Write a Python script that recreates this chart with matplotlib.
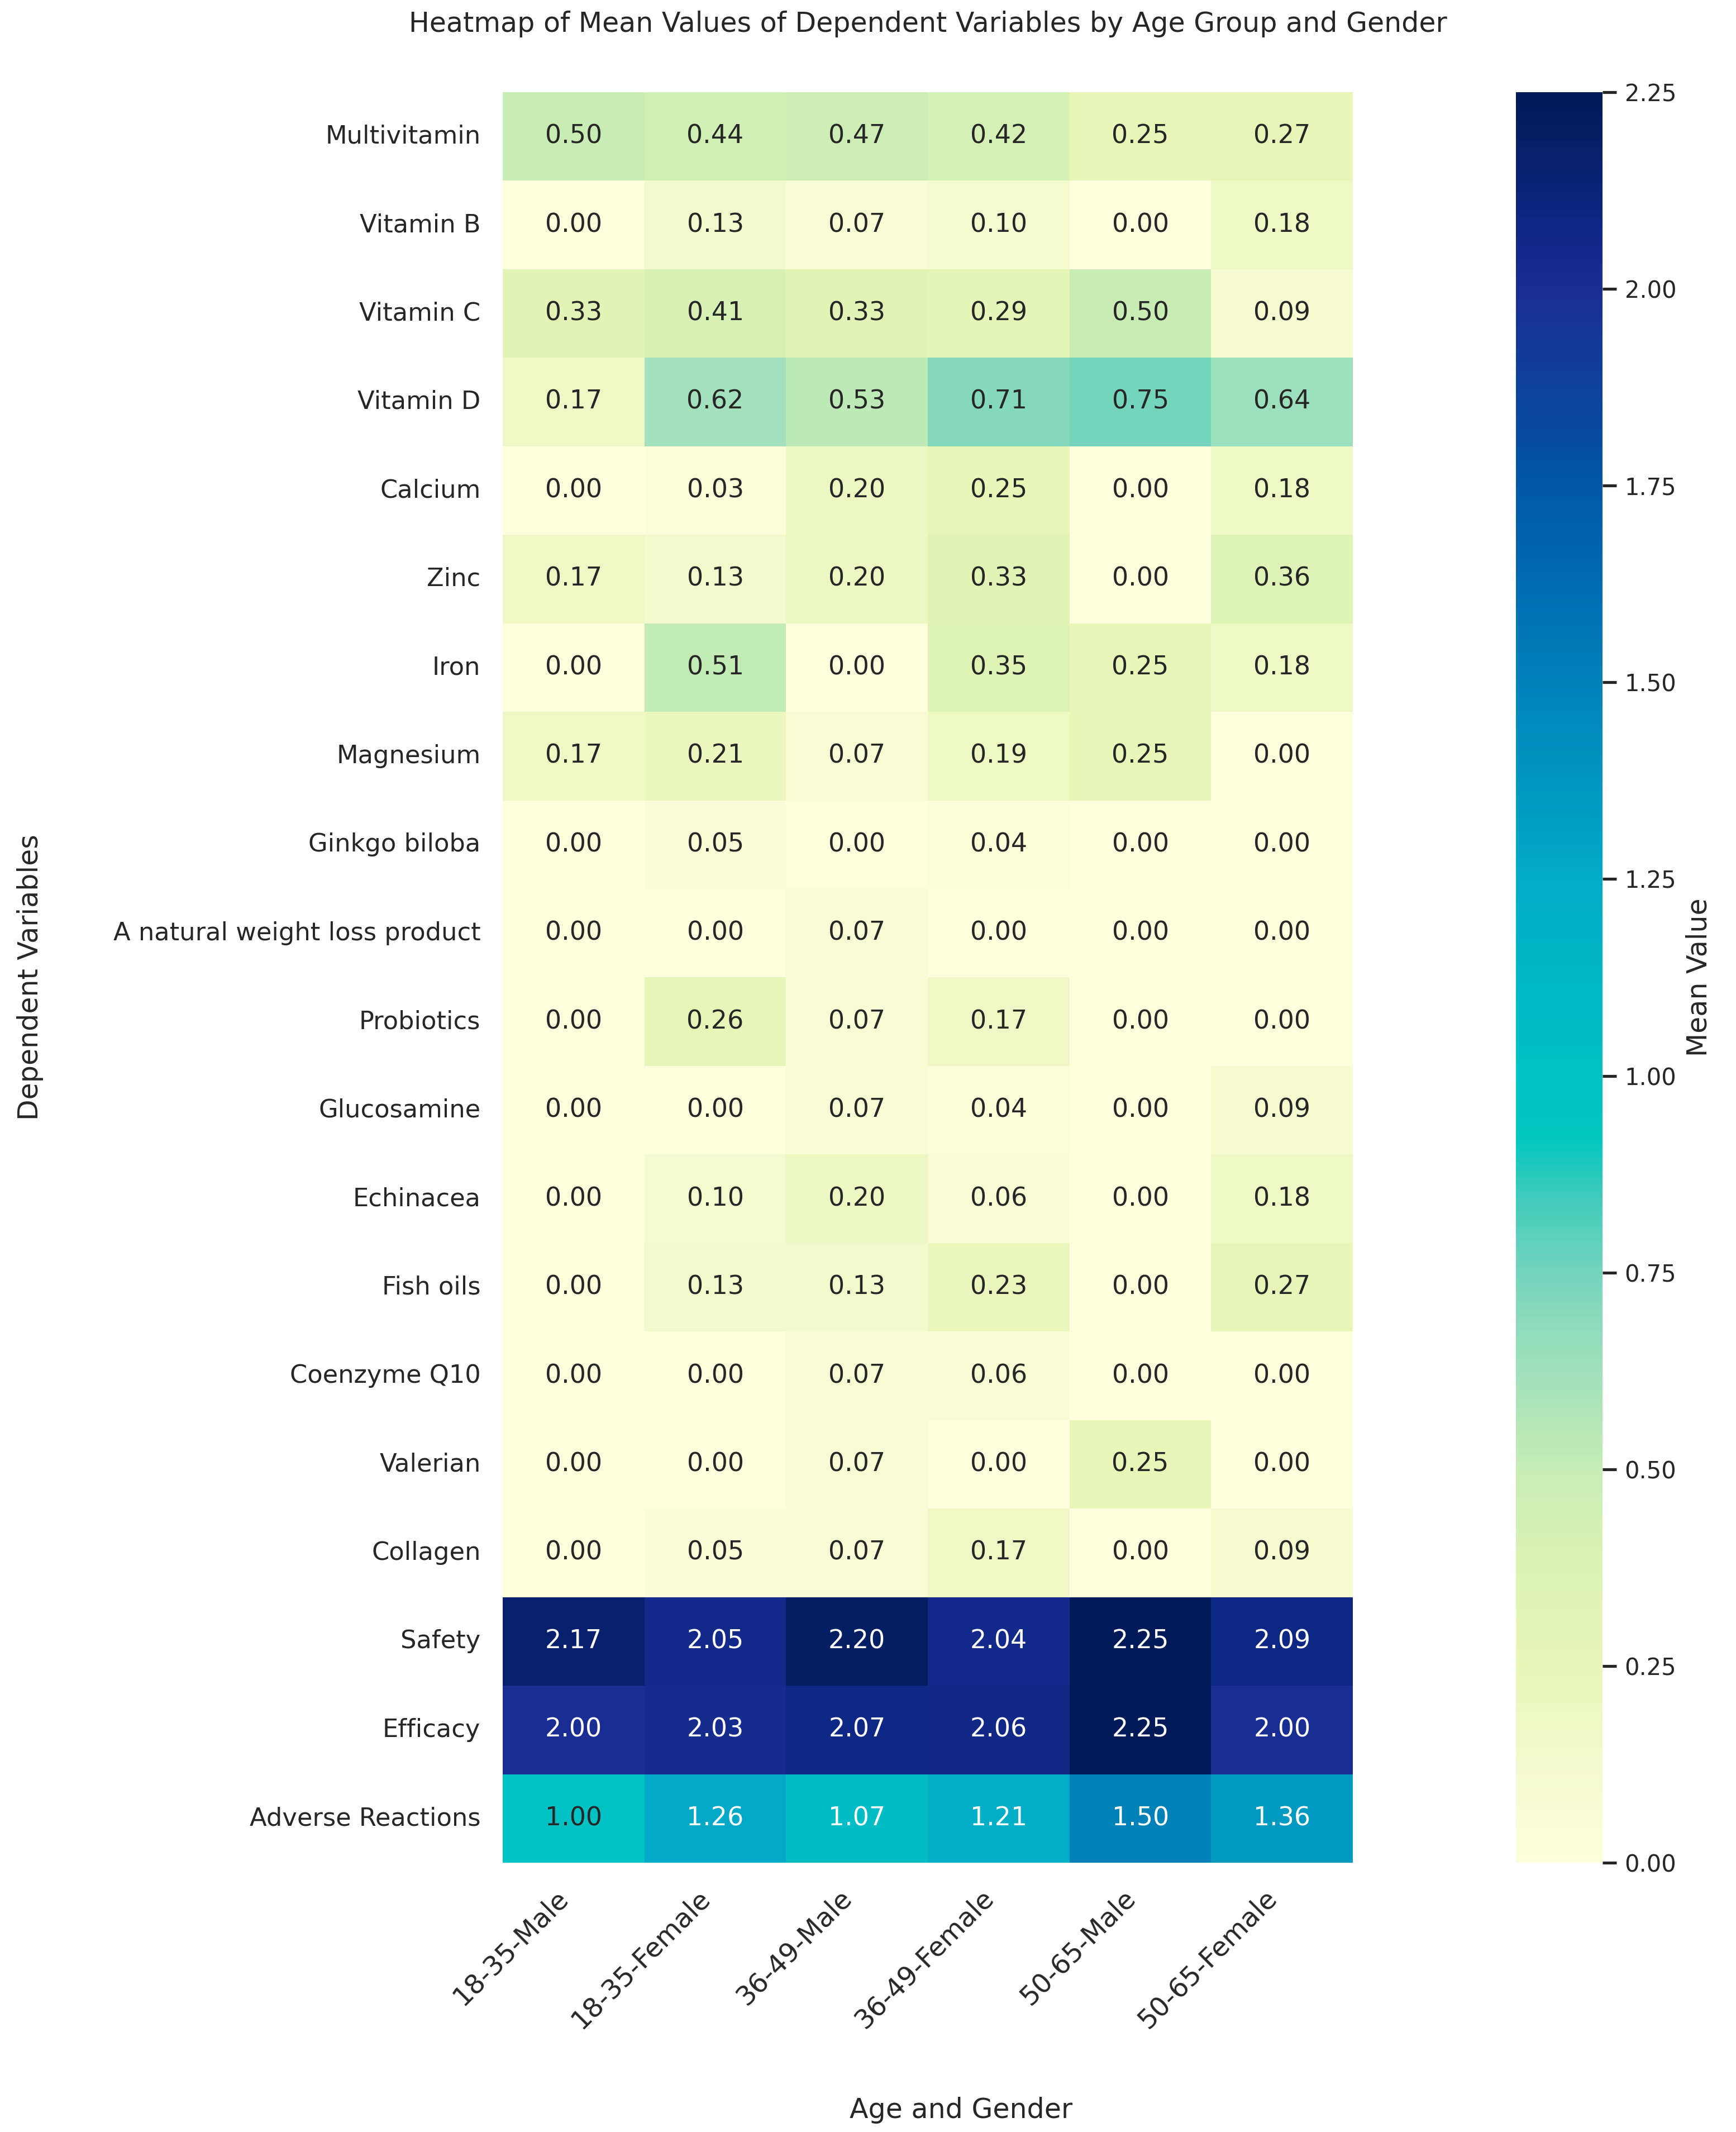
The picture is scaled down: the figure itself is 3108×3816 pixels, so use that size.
import matplotlib
matplotlib.use("Agg")
import matplotlib.pyplot as plt
from matplotlib.colors import LinearSegmentedColormap
import seaborn as sns
import pandas as pd

groups = ["18-35-Male", "18-35-Female", "36-49-Male", "36-49-Female", "50-65-Male", "50-65-Female"]
variables = ["Multivitamin", "Vitamin B", "Vitamin C", "Vitamin D", "Calcium", "Zinc", "Iron",
             "Magnesium", "Ginkgo biloba", "A natural weight loss product", "Probiotics",
             "Glucosamine", "Echinacea", "Fish oils", "Coenzyme Q10", "Valerian", "Collagen",
             "Safety", "Efficacy", "Adverse Reactions"]

multivitamin = [0.50, 0.44, 0.47, 0.42, 0.25, 0.27]
vitamin_b = [0.00, 0.13, 0.07, 0.10, 0.00, 0.18]
vitamin_c = [0.33, 0.41, 0.33, 0.29, 0.50, 0.09]
vitamin_d = [0.17, 0.62, 0.53, 0.71, 0.75, 0.64]
calcium = [0.00, 0.03, 0.20, 0.25, 0.00, 0.18]
zinc = [0.17, 0.13, 0.20, 0.33, 0.00, 0.36]
iron = [0.00, 0.51, 0.00, 0.35, 0.25, 0.18]
magnesium = [0.17, 0.21, 0.07, 0.19, 0.25, 0.00]
ginkgo = [0.00, 0.05, 0.00, 0.04, 0.00, 0.00]
weight_loss = [0.00, 0.00, 0.07, 0.00, 0.00, 0.00]
probiotics = [0.00, 0.26, 0.07, 0.17, 0.00, 0.00]
glucosamine = [0.00, 0.00, 0.07, 0.04, 0.00, 0.09]
echinacea = [0.00, 0.10, 0.20, 0.06, 0.00, 0.18]
fish_oils = [0.00, 0.13, 0.13, 0.23, 0.00, 0.27]
coq10 = [0.00, 0.00, 0.07, 0.06, 0.00, 0.00]
valerian = [0.00, 0.00, 0.07, 0.00, 0.25, 0.00]
collagen = [0.00, 0.05, 0.07, 0.17, 0.00, 0.09]
safety = [2.17, 2.05, 2.20, 2.04, 2.25, 2.09]
efficacy = [2.00, 2.03, 2.07, 2.06, 2.25, 2.00]
adverse = [1.00, 1.26, 1.07, 1.21, 1.50, 1.36]

rows = [multivitamin, vitamin_b, vitamin_c, vitamin_d, calcium, zinc, iron, magnesium, ginkgo,
        weight_loss, probiotics, glucosamine, echinacea, fish_oils, coq10, valerian, collagen,
        safety, efficacy, adverse]
df = pd.DataFrame(rows, index=variables, columns=groups)

# saturated YlGnBu-like ramp, anchors picked off the reference colorbar
vmax = 2.25
anchors = [(0.00, "#fdfedc"), (0.125, "#f2f9cc"), (0.25, "#e8f6b8"), (0.375, "#dcf2b4"),
           (0.50, "#c6ecb4"), (0.625, "#a0e0bc"), (0.75, "#74d4bc"), (0.85, "#3ccbbb"),
           (0.92, "#00c6c0"), (1.00, "#00c2c4"), (1.25, "#00abc8"), (1.50, "#0082b9"),
           (1.75, "#0057a6"), (2.00, "#1a2d94"), (2.10, "#0c2680"), (2.25, "#001a58")]
cmap = LinearSegmentedColormap.from_list("ylgnbu_sat", [(v / vmax, c) for v, c in anchors])

sns.set_theme(style="white")

fig = plt.figure(figsize=(10.36, 12.72), dpi=300)
ax = fig.add_axes([0.2896, 0.1263, 0.4897, 0.8305])
cax = fig.add_axes([0.8732, 0.1263, 0.0499, 0.8305])

sns.heatmap(df, annot=True, fmt=".2f", cmap=cmap, vmin=0, vmax=vmax, ax=ax, cbar_ax=cax,
            annot_kws={"size": 11})

cax.set_ylabel("Mean Value", fontsize=11.75)
cax.tick_params(labelsize=10)

ax.set_title("Heatmap of Mean Values of Dependent Variables by Age Group and Gender",
             fontsize=11.75, pad=26)
ax.set_xlabel("Age and Gender", fontsize=11.75, labelpad=27)
ax.xaxis.label.set_x(0.539)
ax.set_ylabel("Dependent Variables", fontsize=11.75, labelpad=30)
ax.tick_params(axis="y", labelsize=10.75)
ax.tick_params(axis="x", labelsize=11.5)
plt.setp(ax.get_xticklabels(), rotation=45, ha="right")
plt.setp(ax.get_yticklabels(), rotation=0)

fig.savefig("out.png", dpi=300)
